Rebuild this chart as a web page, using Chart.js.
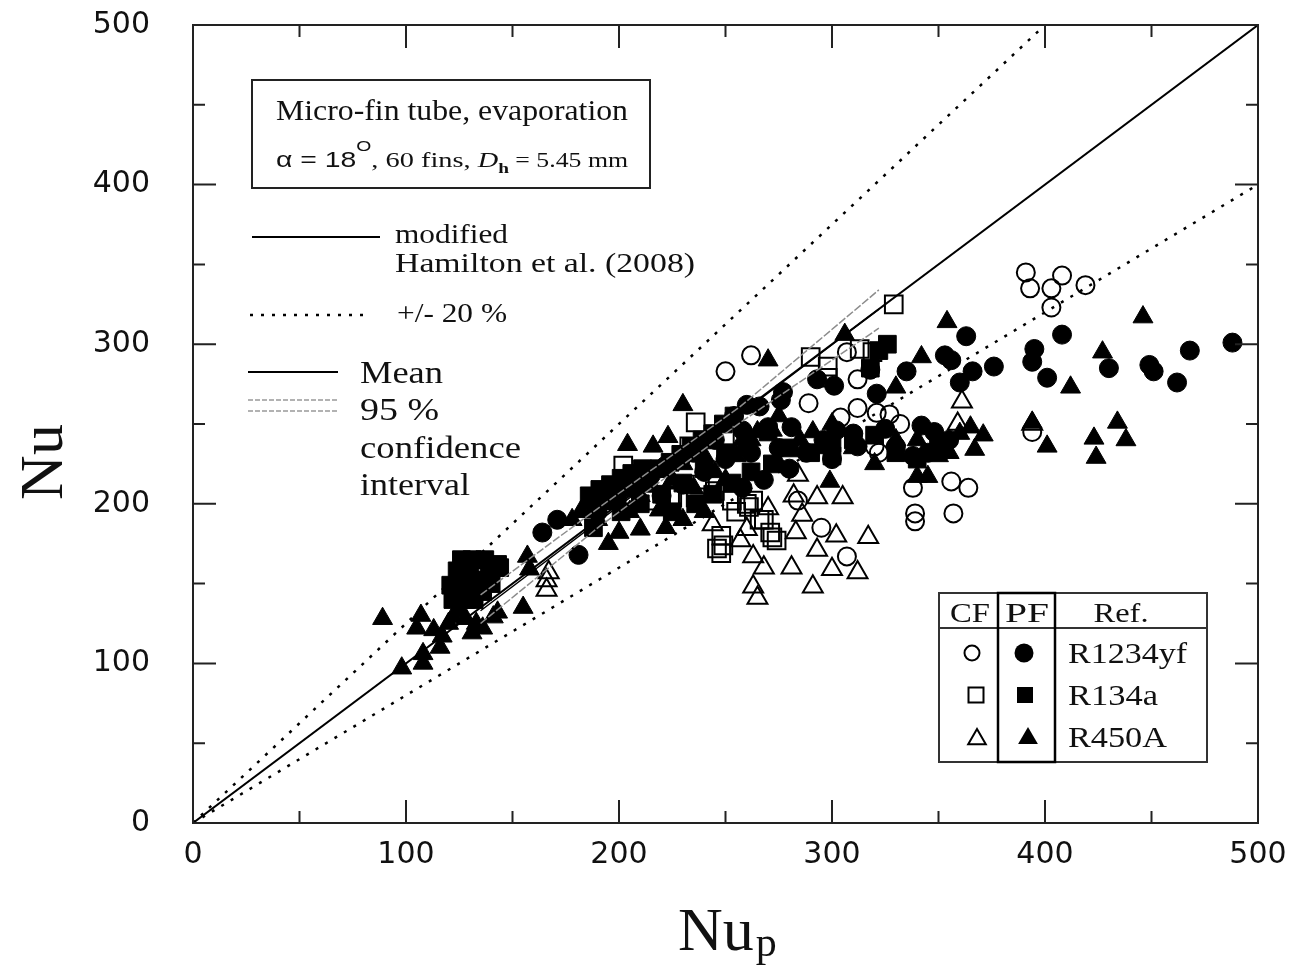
<!DOCTYPE html>
<html><head><meta charset="utf-8">
<script src="https://cdn.jsdelivr.net/npm/chart.js@4.4.1/dist/chart.umd.min.js"></script>
<style>html,body{margin:0;padding:0;background:#fff}#wrap{width:1304px;height:965px}</style>
</head><body><div id="wrap"><canvas id="c" width="1304" height="965"></canvas></div>
<script>
// ---- axis ticks ----
const xTickValues = [0, 100, 200, 300, 400, 500];
const yTickValues = [0, 100, 200, 300, 400, 500];

// ---- reference lines ----
const parityX = [0, 500], parityY = [0, 500];
const plus20X = [0, 400], plus20Y = [0, 500];
const minus20X = [0, 500], minus20Y = [0, 400];
const meanX = [135, 322], meanY = [133, 322];
const ciUpperX = [135, 191, 257, 322], ciUpperY = [143, 198, 261, 334];
const ciLowerX = [135, 191, 257, 322], ciLowerY = [125, 186, 251, 310];

// ---- CF (open) R1234yf ----
const cfR1234yfX = [391,393,403,408,403,419,394,338,356,364,339,339,357,250,262,307,312,289,304,312,321,327,332,320,322,295,307,284];
const cfR1234yfY = [345,335,335,343,323,337,245,210,214,210,194,189,194,283,293,295,278,263,254,260,257,256,250,236,232,185,167,202];
// ---- PF (filled) R1234yf ----
const pfR1234yfX = [363,408,395,394,401,376,366,360,353,356,335,430,449,451,462,468,488,
  321,318,301,293,277,266,276,
  270,281,302,342,348,355,296,310,325,258,
  164,171,181,190,199,210,222,235,245,254,260,
  240,250,262,275,288,300,312,330,338,345,258,268,280,230,220,215];
const pfR1234yfY = [305,306,297,289,279,286,283,276,293,290,283,285,287,283,276,296,301,
  269,284,274,278,270,261,265,
  248,248,246,249,245,240,240,244,247,246,
  182,190,168,195,203,212,224,232,240,255,262,
  220,228,232,235,232,228,236,236,230,232,210,215,222,212,205,218];
// ---- CF (open) R134a ----
const cfR134aX = [329,290,298,298,319,313,236,258,233,246,249,248,268,271,274,260,263,215,225,236,253,224,261,266,272,202,248,255,238,245];
const cfR134aY = [325,292,286,279,295,297,251,241,236,172,174,169,190,182,177,200,202,202,204,204,202,205,198,190,179,224,180,195,212,208];
// ---- PF (filled) R134a ----
const pfR134aX = [126,131,137,143,121,125,130,135,122,128,132,139,144,128,133,124,140,136,
  186,191,196,201,206,211,189,194,199,204,209,214,219,224,229,234,239,244,249,254,
  230,240,250,260,270,280,290,300,310,320,330,340,350,
  318,322,326,
  210,220,236,244,253,262,272,188,201,225,300];
const pfR134aY = [165,165,165,162,149,152,155,152,140,140,140,159,160,146,148,158,150,145,
  205,209,212,216,219,222,198,202,206,210,214,218,222,226,231,236,240,244,250,255,
  213,222,232,236,245,235,232,238,240,243,232,228,236,
  285,296,300,
  200,206,200,206,213,220,225,185,195,195,230];
// ---- CF (open) R450A ----
const cfR450AX = [263,268,263,265,281,291,293,300,302,312,317,293,305,286,283,361,359,394,166,167,166,244,260,257,270,282,284];
const cfR450AY = [167,160,148,141,160,148,171,159,180,157,179,204,204,193,182,264,250,250,152,157,146,187,184,177,197,205,218];
// ---- PF (filled) R450A ----
const pfR450AX = [89,107,105,108,108,98,116,117,113,122,125,131,133,141,143,157,158,155,120,128,136,
  204,216,223,230,270,306,291,272,258,299,200,222,219,345,190,195,210,215,225,235,245,255,262,275,285,295,300,310,320,330,340,350,360,365,275,265,240,230,205,250,185,182,178,195,210,230,240,
  354,342,330,446,427,412,434,438,423,424,401,371,367,394,355,340];
const pfR450AY = [128,130,122,106,100,97,110,117,121,129,133,119,125,129,132,167,159,135,125,128,122,
  237,236,242,262,290,306,245,246,240,214,182,185,196,217,190,200,205,212,215,210,220,230,240,225,240,235,250,235,225,240,240,230,244,248,255,245,230,225,195,215,200,195,190,175,184,190,195,
  314,292,273,317,295,273,251,240,241,229,236,243,234,251,232,217];

const pts = (xs, ys) => xs.map((x, i) => ({x: x, y: ys[i]}));

function lineDs(xs, ys, color, width, dash, order) {
  return {data: pts(xs, ys), showLine: true, pointRadius: 0, borderColor: color, borderWidth: width,
    borderDash: dash, fill: false, tension: 0, order: order, borderCapStyle: 'butt'};
}
function markDs(xs, ys, style, r, filled, order) {
  return {data: pts(xs, ys), showLine: false, pointStyle: style, pointRadius: r,
    backgroundColor: filled ? '#000' : 'rgba(0,0,0,0)', borderColor: '#000',
    pointBorderWidth: filled ? 1 : 2, order: order};
}

const datasets = [
  lineDs(parityX, parityY, '#000', 2, [], 10),
  lineDs(plus20X, plus20Y, '#000', 2.5, [3, 8], 10),
  lineDs(minus20X, minus20Y, '#000', 2.5, [3, 8], 10),
  markDs(pfR450AX, pfR450AY, 'triangle', 11.5, true, 6),
  markDs(pfR134aX, pfR134aY, 'rect', 12.5, true, 6),
  markDs(pfR1234yfX, pfR1234yfY, 'circle', 9.5, true, 6),
  markDs(cfR450AX, cfR450AY, 'triangle', 11.5, false, 4),
  markDs(cfR134aX, cfR134aY, 'rect', 12.5, false, 4),
  markDs(cfR1234yfX, cfR1234yfY, 'circle', 9, false, 4),
  lineDs(ciUpperX, ciUpperY, '#8c8c8c', 1.5, [8, 2], 2),
  lineDs(ciLowerX, ciLowerY, '#8c8c8c', 1.5, [8, 2], 2),
  lineDs(meanX, meanY, '#000', 1.5, [], 1)
];

function fitText(ctx, s, x, y, font, targetW, align) {
  ctx.save();
  ctx.font = font;
  const w = ctx.measureText(s).width;
  const k = targetW ? targetW / w : 1;
  ctx.textBaseline = 'alphabetic';
  ctx.textAlign = 'left';
  let left = x;
  if (align === 'center') left = x - (w * k) / 2;
  ctx.translate(left, y);
  ctx.scale(k, 1);
  ctx.fillStyle = '#111';
  ctx.fillText(s, 0, 0);
  ctx.restore();
  return w * k;
}
function seg(ctx, x, y, s, font, k) {
  ctx.save(); ctx.font = font; ctx.textBaseline = 'alphabetic'; ctx.textAlign = 'left';
  const w = ctx.measureText(s).width;
  ctx.translate(x, y); ctx.scale(k, 1); ctx.fillStyle = '#111'; ctx.fillText(s, 0, 0); ctx.restore();
  return w * k;
}
function hline(ctx, x1, x2, y, color, width, dash) {
  ctx.save(); ctx.strokeStyle = color; ctx.lineWidth = width; ctx.setLineDash(dash || []);
  ctx.beginPath(); ctx.moveTo(x1, y); ctx.lineTo(x2, y); ctx.stroke(); ctx.restore();
}
function marker(ctx, type, x, y, s, filled) {
  ctx.save(); ctx.lineWidth = 2; ctx.strokeStyle = '#000'; ctx.fillStyle = '#000';
  ctx.beginPath();
  if (type === 'circle') ctx.arc(x, y, s / 2, 0, Math.PI * 2);
  else if (type === 'rect') ctx.rect(x - s / 2, y - s / 2, s, s);
  else { ctx.moveTo(x, y - s * 0.5); ctx.lineTo(x + s * 0.55, y + s * 0.45); ctx.lineTo(x - s * 0.55, y + s * 0.45); ctx.closePath(); }
  if (filled) ctx.fill(); else ctx.stroke();
  ctx.restore();
}

const framePlugin = {
  id: 'frame',
  afterDraw(chart) {
    const ctx = chart.ctx, a = chart.chartArea, sx = chart.scales.x, sy = chart.scales.y;
    ctx.save();
    ctx.strokeStyle = '#222'; ctx.lineWidth = 2;
    ctx.strokeRect(a.left, a.top, a.right - a.left, a.bottom - a.top);
    ctx.beginPath();
    for (let v = 0; v <= 500; v += 50) {
      const L = (v % 100 === 0) ? 23 : 12;
      const px = sx.getPixelForValue(v), py = sy.getPixelForValue(v);
      ctx.moveTo(px, a.bottom); ctx.lineTo(px, a.bottom - L);
      ctx.moveTo(px, a.top); ctx.lineTo(px, a.top + L);
      ctx.moveTo(a.left, py); ctx.lineTo(a.left + L, py);
      ctx.moveTo(a.right, py); ctx.lineTo(a.right - L, py);
    }
    ctx.stroke();
    ctx.restore();

    // axis titles
    ctx.save();
    ctx.fillStyle = '#111';
    ctx.font = '62px "Liberation Serif"';
    ctx.translate(62, 462); ctx.rotate(-Math.PI / 2);
    ctx.textAlign = 'center'; ctx.textBaseline = 'alphabetic';
    ctx.fillText('Nu', 0, 0);
    ctx.restore();
    ctx.save();
    ctx.fillStyle = '#111'; ctx.textBaseline = 'alphabetic'; ctx.textAlign = 'left';
    ctx.font = '62px "Liberation Serif"';
    ctx.fillText('Nu', 678, 950);
    const nw = ctx.measureText('Nu').width;
    ctx.font = '42px "Liberation Serif"';
    ctx.fillText('p', 678 + nw + 2, 956);
    ctx.restore();

    // info box
    ctx.save(); ctx.strokeStyle = '#222'; ctx.lineWidth = 2;
    ctx.strokeRect(252, 80, 398, 108); ctx.restore();
    fitText(ctx, 'Micro-fin tube, evaporation', 276, 120, '29px "Liberation Serif"', 352);
    {
      const parts = [
        ['\u03b1 = 18', '22px "Liberation Sans"', 0],
        ['O', '15px "Liberation Sans"', -16],
        [', 60 fins, ', '22px "Liberation Serif"', 0],
        ['D', 'italic 22px "Liberation Serif"', 0],
        ['h', 'bold 15px "Liberation Serif"', 6],
        [' = 5.45 mm', '20px "Liberation Serif"', 0]
      ];
      let total = 0;
      ctx.save();
      parts.forEach(p => { ctx.font = p[1]; total += ctx.measureText(p[0]).width; });
      ctx.restore();
      const k = 352 / total;
      let x = 276;
      parts.forEach(p => { x += seg(ctx, x, 167 + p[2], p[0], p[1], k); });
    }

    // line legend
    hline(ctx, 252, 380, 237, '#000', 2, []);
    fitText(ctx, 'modified', 395, 243, '28px "Liberation Serif"', 113);
    fitText(ctx, 'Hamilton et al. (2008)', 395, 272, '28px "Liberation Serif"', 300);
    hline(ctx, 250, 370, 315, '#000', 2.5, [3, 8]);
    fitText(ctx, '+/- 20 %', 397, 322, '28px "Liberation Serif"', 110);
    hline(ctx, 248, 338, 372, '#000', 2, []);
    fitText(ctx, 'Mean', 360, 383, '32px "Liberation Serif"', 83);
    hline(ctx, 248, 338, 400, '#999', 1.5, [5, 2]);
    hline(ctx, 248, 338, 411, '#999', 1.5, [5, 2]);
    fitText(ctx, '95 %', 360, 420, '32px "Liberation Serif"', 79);
    fitText(ctx, 'confidence', 360, 458, '32px "Liberation Serif"', 161);
    fitText(ctx, 'interval', 360, 495, '32px "Liberation Serif"', 110);

    // table legend
    ctx.save();
    ctx.strokeStyle = '#333'; ctx.lineWidth = 2;
    ctx.strokeRect(939, 593, 268, 169);
    ctx.beginPath();
    ctx.moveTo(939, 628); ctx.lineTo(1207, 628);
    ctx.stroke();
    ctx.strokeStyle = '#000'; ctx.lineWidth = 2.5;
    ctx.strokeRect(998, 593, 57, 169);
    ctx.restore();
    fitText(ctx, 'CF', 970, 622, '27px "Liberation Serif"', 40, 'center');
    fitText(ctx, 'PF', 1027, 622, '27px "Liberation Serif"', 44, 'center');
    fitText(ctx, 'Ref.', 1121, 622, '27px "Liberation Serif"', 55, 'center');
    fitText(ctx, 'R1234yf', 1068, 663, '30px "Liberation Serif"', 119);
    fitText(ctx, 'R134a', 1068, 705, '30px "Liberation Serif"', 90);
    fitText(ctx, 'R450A', 1068, 747, '30px "Liberation Serif"', 99);
    marker(ctx, 'circle', 972, 653, 15, false);
    marker(ctx, 'circle', 1024, 653, 19, true);
    marker(ctx, 'rect', 976, 695, 15, false);
    marker(ctx, 'rect', 1025, 695, 16, true);
    marker(ctx, 'triangle', 977, 737, 16, false);
    marker(ctx, 'triangle', 1028, 736, 18, true);
  }
};

function zeroPad(s) { s.paddingTop = 0; s.paddingBottom = 0; s.paddingLeft = 0; s.paddingRight = 0; }

new Chart(document.getElementById('c').getContext('2d'), {
  type: 'scatter',
  data: {datasets: datasets},
  options: {
    responsive: false, animation: false, devicePixelRatio: 1,
    layout: {padding: {top: 25, right: 46, left: 0, bottom: 0}},
    plugins: {legend: {display: false}, tooltip: {enabled: false}},
    scales: {
      x: {
        type: 'linear', min: 0, max: 500,
        afterBuildTicks(s) { s.ticks = xTickValues.map(v => ({value: v})); },
        afterFit(s) { s.height = 142; zeroPad(s); },
        grid: {display: false, drawTicks: false}, border: {display: false},
        ticks: {padding: 14, color: '#111', maxRotation: 0, autoSkip: false,
          font: {family: 'DejaVu Sans', size: 30}}
      },
      y: {
        type: 'linear', min: 0, max: 500,
        afterBuildTicks(s) { s.ticks = yTickValues.map(v => ({value: v})); },
        afterFit(s) { s.width = 193; zeroPad(s); },
        grid: {display: false, drawTicks: false}, border: {display: false},
        ticks: {padding: 43, color: '#111', autoSkip: false,
          font: {family: 'DejaVu Sans', size: 30}}
      }
    }
  },
  plugins: [framePlugin]
});
</script>
</body></html>
